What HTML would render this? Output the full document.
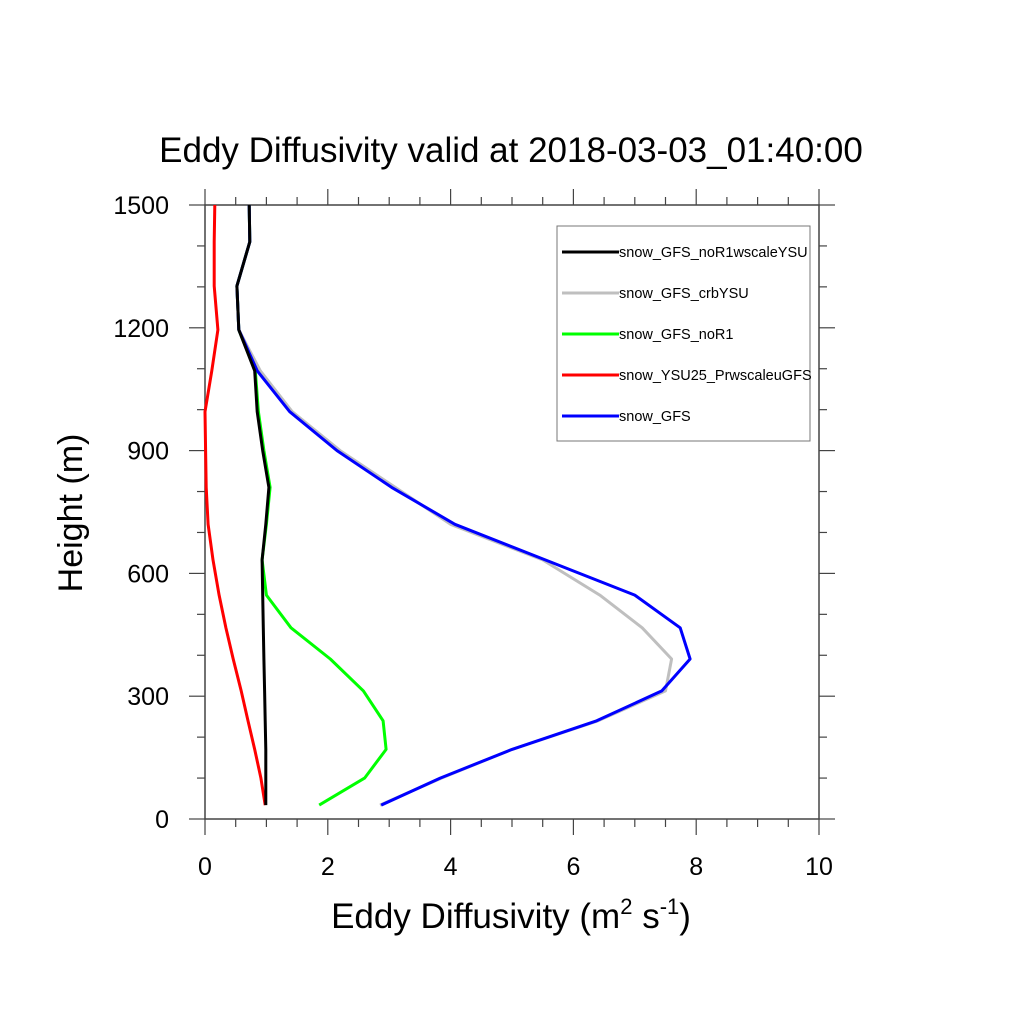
<!DOCTYPE html>
<html><head><meta charset="utf-8"><style>body{margin:0;background:#fff}svg{display:block;font-family:"Liberation Sans",sans-serif}</style></head>
<body>
<svg id="chart" width="1024" height="1024">
<text x="511" y="162" font-size="35" text-anchor="middle">Eddy Diffusivity valid at 2018-03-03_01:40:00</text>
<g id="axes"></g>
<g id="series"></g>
<text x="511" y="928" font-size="35" text-anchor="middle">Eddy Diffusivity (m<tspan dy="-14" font-size="22">2</tspan><tspan dy="14"> s</tspan><tspan dy="-14" font-size="22">-1</tspan><tspan dy="14">)</tspan></text>
<text transform="translate(82,513) rotate(-90)" font-size="34" text-anchor="middle">Height (m)</text>
<g id="legend"></g>
</svg>
<script>
const heights=[34,100,170,240,313,391,467,547,633,720,810,900,995,1095,1195,1302,1410,1500];
const blackVals=[0.99,0.99,0.99,0.98,0.97,0.96,0.95,0.94,0.93,0.99,1.04,0.94,0.85,0.81,0.55,0.52,0.73,0.72];
const grayVals=[2.85,3.85,5.0,6.4,7.5,7.6,7.12,6.43,5.5,4.0,3.1,2.2,1.42,0.9,0.55,0.52,0.73,0.72];
const greenVals=[1.86,2.6,2.95,2.9,2.58,2.04,1.4,1.0,0.93,1.0,1.06,0.96,0.87,0.82,0.55,0.52,0.73,0.72];
const redVals=[0.98,0.91,0.81,0.70,0.59,0.46,0.34,0.23,0.13,0.05,0.02,0.01,0.0,0.11,0.21,0.15,0.15,0.16];
const blueVals=[2.87,3.83,5.0,6.38,7.44,7.9,7.74,7.0,5.54,4.07,3.04,2.15,1.38,0.85,0.55,0.52,0.73,0.72];
const xTicks=[0,2,4,6,8,10];
const yTicks=[0,300,600,900,1200,1500];
const legendLabels=["snow_GFS_noR1wscaleYSU","snow_GFS_crbYSU","snow_GFS_noR1","snow_YSU25_PrwscaleuGFS","snow_GFS"];
const X0=205,X1=819,Y0=819,Y1=205;
const xs=v=>X0+(v/10)*(X1-X0);
const ys=v=>Y0-(v/1500)*(Y0-Y1);
const NS="http://www.w3.org/2000/svg";
function mk(tag,attrs,parent){const e=document.createElementNS(NS,tag);for(const k in attrs)e.setAttribute(k,attrs[k]);parent.appendChild(e);return e;}
const axes=document.getElementById('axes');
const frame=mk('rect',{x:X0,y:Y1,width:X1-X0,height:Y0-Y1,fill:'none',stroke:'#444','stroke-width':1.5},axes);


for(let v=0;v<=10.001;v+=0.5){const maj=Math.abs(v/2-Math.round(v/2))<1e-6;const L=maj?16:8;const x=xs(v);
 const t1=mk('line',{x1:x,x2:x,y1:Y0,y2:Y0+L,stroke:'#444','stroke-width':1.2},axes);
 
 
 const t2=mk('line',{x1:x,x2:x,y1:Y1,y2:Y1-L,stroke:'#444','stroke-width':1.2},axes);
 
 }
for(let v=0;v<=1500;v+=100){const maj=v%300===0;const L=maj?16:8;const y=ys(v);
 const t1=mk('line',{x1:X0,x2:X0-L,y1:y,y2:y,stroke:'#444','stroke-width':1.2},axes);
 
 
 const t2=mk('line',{x1:X1,x2:X1+L,y1:y,y2:y,stroke:'#444','stroke-width':1.2},axes);
 
 }
xTicks.forEach(v=>{const t=mk('text',{x:xs(v),y:Y0+56,'font-size':25,'text-anchor':'middle'},axes);t.textContent=v;
 
 });
yTicks.forEach(v=>{const t=mk('text',{x:169,y:ys(v)+9,'font-size':25,'text-anchor':'end'},axes);t.textContent=v;
 
 });
const ser=document.getElementById('series');
const defs=[[greenVals,'#00ff00',3,'line-snow-gfs-nor1'],[redVals,'#ff0000',3,'line-snow-ysu25'],[grayVals,'#bfbfbf',3,'line-snow-gfs-crbysu'],[blueVals,'#0000ff',3,'line-snow-gfs'],[blackVals,'#000000',3,'line-snow-gfs-nor1wscaleysu']];
defs.forEach(d=>{const pts=d[0].map((v,i)=>xs(v).toFixed(1)+','+ys(heights[i]).toFixed(1)).join(' ');
 const p=mk('polyline',{points:pts,fill:'none',stroke:d[1],'stroke-width':d[2],'stroke-linejoin':'round'},ser);
 
 });
const lg=document.getElementById('legend');
const box=mk('rect',{x:557,y:226,width:253,height:215,fill:'#fff',stroke:'#777','stroke-width':1},lg);


const lcol=['#000000','#bfbfbf','#00ff00','#ff0000','#0000ff'];
legendLabels.forEach((s,i)=>{const y=252+i*41;
 const l=mk('line',{x1:562,x2:619,y1:y,y2:y,stroke:lcol[i],'stroke-width':3},lg);
 
 
 const t=mk('text',{x:619,y:y+5,'font-size':14.5},lg);t.textContent=s;
 
 });
</script>
</body></html>
